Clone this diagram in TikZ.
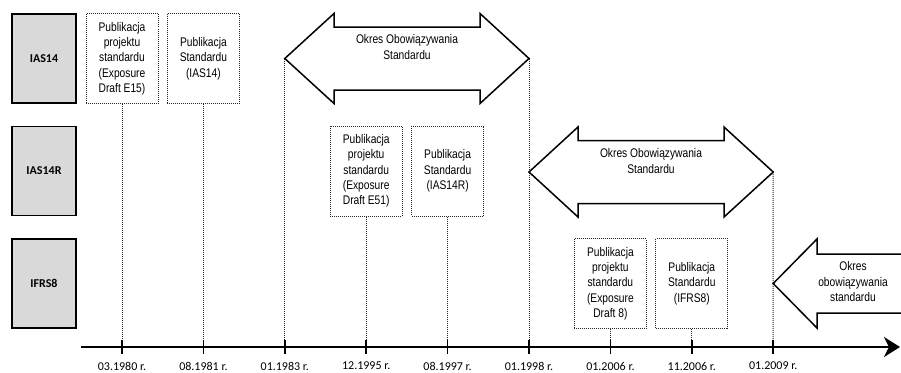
\documentclass[tikz,border=0pt]{standalone}
\usepackage{fontspec}
\usetikzlibrary{arrows.meta,positioning}
\newfontfamily\calfont{Carlito}
\newfontfamily\narrowfont[FakeStretch=0.82]{Liberation Sans}
\tikzset{
  stdbox/.style={draw=black,line width=1.5pt,fill=gray!30,minimum width=64pt,minimum height=89pt,inner sep=0pt,font=\calfont\bfseries\fontsize{12}{14}\selectfont},
  pubbox/.style={draw=black!85,densely dotted,line width=1pt,minimum width=72pt,minimum height=90pt,inner sep=0pt,align=center,font=\narrowfont\fontsize{12.5}{15.3}\selectfont},
  okres/.style={draw=black,line width=1.5pt,line join=miter,fill=white},
  okrestxt/.style={align=center,inner sep=0pt,font=\narrowfont\fontsize{12.5}{15.5}\selectfont},
  drop/.style={draw=black!85,densely dotted,line width=1pt},
  datelbl/.style={inner sep=0pt,font=\calfont\fontsize{12}{14}\selectfont}
}
\begin{document}
\begin{tikzpicture}[x=1pt,y=-1pt]
         \useasboundingbox (0,0) rectangle (901,372);
         \node[stdbox,name=ias14] at (44,58.5) {IAS14};
         \node[stdbox,name=ias14r] at (44,171) {IAS14R};
         \node[stdbox,name=ifrs8] at (44,283.5) {IFRS8};

         \foreach \n in {1,...,9}
            \coordinate (t\n) at (122+81.4*\n-81.4,347);
         \coordinate (ax0) at (81,347);
         \coordinate (ax1) at (900,347);

         \node[pubbox,name=pub1] at (t1 |- ias14) {Publikacja\\projektu\\standardu\\(Exposure\\Draft E15)};
         \node[pubbox,name=pub2] at (t2 |- ias14) {Publikacja\\Standardu\\(IAS14)};
         \node[pubbox,name=pub3] at (t4 |- ias14r) {Publikacja\\projektu\\standardu\\(Exposure\\Draft E51)};
         \node[pubbox,name=pub4] at (t5 |- ias14r) {Publikacja\\Standardu\\(IAS14R)};
         \node[pubbox,name=pub5] at (t7 |- ifrs8) {Publikacja\\projektu\\standardu\\(Exposure\\Draft 8)};
         \node[pubbox,name=pub6] at (t8 |- ifrs8) {Publikacja\\Standardu\\(IFRS8)};

         \coordinate (a1l) at (t3 |- ias14);
         \coordinate (a1r) at (t6 |- ias14);
         \coordinate (a2r) at (773.2,172);

         \path[drop]
            (pub1) edge (t1)
            (pub2) edge (t2)
            (pub3) edge (t4)
            (pub4) edge (t5)
            (pub5) edge (t7)
            (pub6) edge (t8)
            (a1l)  edge (t3)
            (a1r)  edge (t6)
            (a2r)  edge (t9);

         \draw[okres] (a1l) -- (334,13.5) -- (334,27) -- (480,27) -- (480,13.5) -- (a1r)
            -- (480,103.5) -- (480,90) -- (334,90) -- (334,103.5) -- cycle;
         \draw[okres] (529,172) -- (578,127) -- (578,140.5) -- (724,140.5) -- (724,127) -- (a2r)
            -- (724,217) -- (724,203.5) -- (578,203.5) -- (578,217) -- cycle;
         \draw[okres] (901,254) -- (817,254) -- (817,239) -- (773.2,283.5)
            -- (817,328) -- (817,313) -- (901,313);

         \node[okrestxt,name=okres1] at (407,47) {Okres Obowiązywania\\Standardu};
         \node[okrestxt,name=okres2] at (651,161) {Okres Obowiązywania\\Standardu};
         \node[okrestxt,name=okres3] at (853,282) {Okres\\obowiązywania\\standardu};

         \draw[line width=2.2pt,-{Stealth[length=16pt,width=20pt,inset=5pt]}] (ax0) -- (ax1);
         \foreach \n in {1,...,9}
            \draw[line width=1.5pt] ([yshift=7pt]t\n) -- ([yshift=-7pt]t\n);
         \foreach \n/\d in {1/03.1980,2/08.1981,3/01.1983,4/12.1995,5/08.1997,6/01.1998,7/01.2006,8/11.2006,9/01.2009}
            \node[datelbl,below=15pt of t\n,name=d\n] {\d{} r.};
      \end{tikzpicture}
\end{document}
